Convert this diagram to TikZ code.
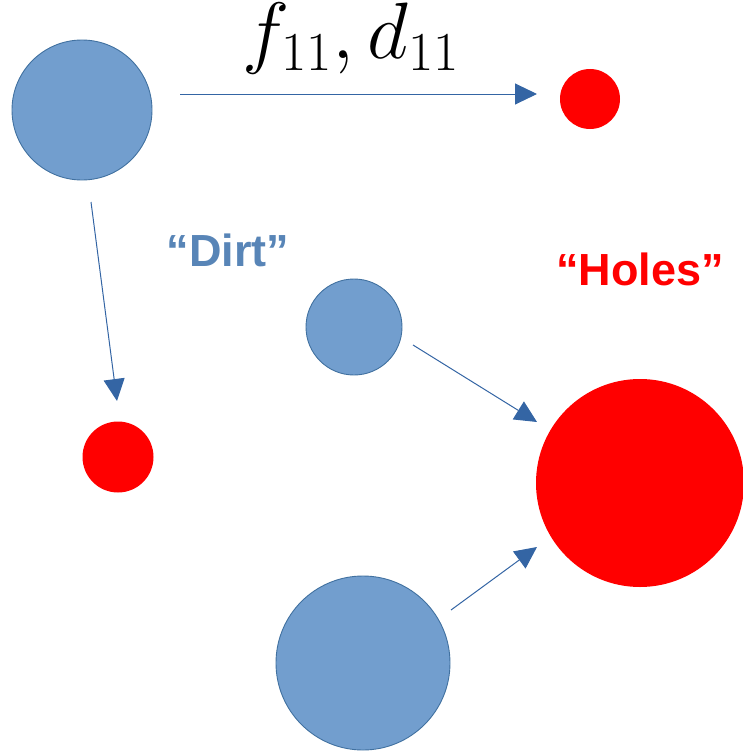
\RequirePackage{fix-cm}
\documentclass[tikz,border=0pt]{standalone}
\usepackage{fontspec}
\newfontfamily\labelfont{Liberation Sans}
\usetikzlibrary{arrows.meta}
\DeclareMathSizes{80}{80}{55}{40}

\definecolor{dirtfill}{RGB}{114,158,206}
\definecolor{dirtline}{RGB}{65,113,160}
\definecolor{flowblue}{RGB}{52,101,164}
\definecolor{dirttext}{RGB}{88,133,183}

\begin{document}
\begin{tikzpicture}[
    x=1pt, y=-1pt,
    dirt/.style={circle, draw=dirtline, line width=0.9pt, fill=dirtfill, inner sep=0pt, minimum size=#1},
    hole/.style={circle, fill=red, inner sep=0pt, minimum size=#1},
    flow/.style={draw=flowblue, line width=1pt, -{Triangle[length=22pt,width=21pt]}},
    tag/.style={anchor=base, inner sep=0pt, font=\labelfont\fontsize{45}{50}\selectfont\bfseries}
]
\useasboundingbox (0,0) rectangle (742,752);

% dirt piles and holes
\node[dirt=140pt] (dirt1) at (82,110) {};
\node[dirt=96pt]  (dirt2) at (354,327) {};
\node[dirt=174pt] (dirt3) at (363,663) {};
\node[hole=60pt]  (hole1) at (590,99) {};
\node[hole=71pt]  (hole2) at (118,457) {};
\node[hole=208pt] (hole3) at (640,483) {};

% arrow ends
\coordinate (f1s) at (180,94);   \coordinate (f1e) at (537,94);
\coordinate (f2s) at (91,202);   \coordinate (f2e) at (117,401);
\coordinate (f3s) at (413,345);  \coordinate (f3e) at (537,422);
\coordinate (f4s) at (451,610);  \coordinate (f4e) at (537,547);

\draw[flow] (f1s) -- (f1e);
\draw[flow] (f2s) -- (f2e);
\draw[flow] (f3s) -- (f3e);
\draw[flow] (f4s) -- (f4e);

\node[anchor=base, inner sep=0pt, font=\fontsize{80}{86}\selectfont] (cost) at (351,59) {$f_{11}, d_{11}$};
\node[tag, text=dirttext] (dirtlbl) at (228,266) {“Dirt”};
\node[tag, text=red] (holelbl) at (640,285) {“Holes”};

\end{tikzpicture}
\end{document}
